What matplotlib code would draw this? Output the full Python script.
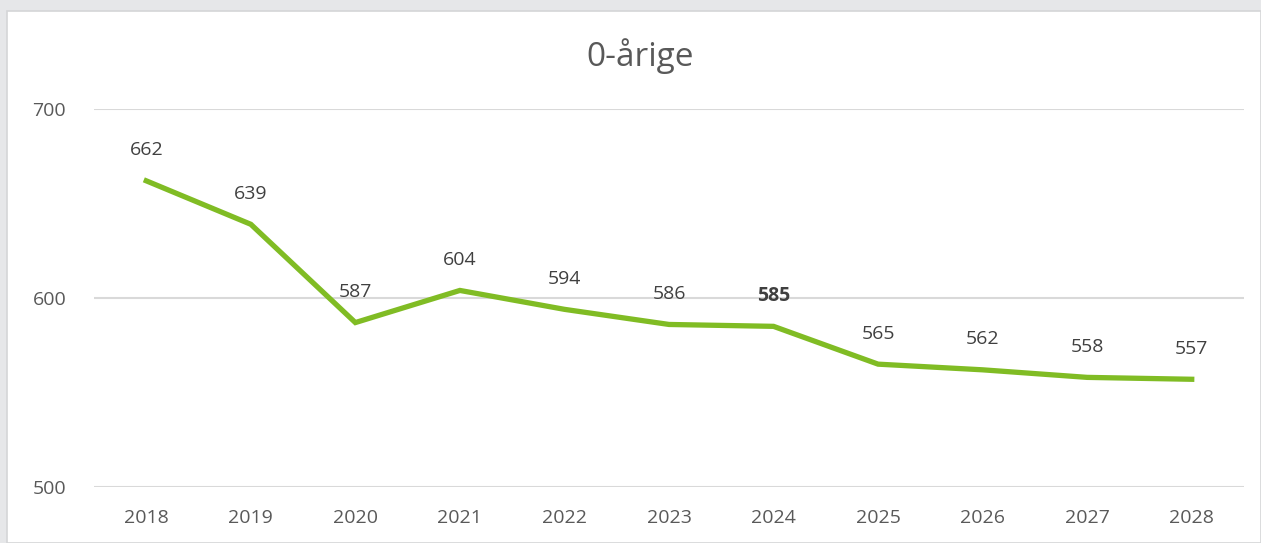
import matplotlib
matplotlib.use("Agg")
import matplotlib.pyplot as plt
from matplotlib.patches import Rectangle

years = ["2018", "2019", "2020", "2021", "2022", "2023", "2024", "2025", "2026", "2027", "2028"]
values = [662, 639, 587, 604, 594, 586, 585, 565, 562, 558, 557]
bold_year = "2024"

TXT = "#595959"
GREEN = "#80BC24"
GRID = "#D9D9D9"

plt.rcParams["font.family"] = ["Open Sans", "DejaVu Sans"]

fig = plt.figure(figsize=(12.61, 5.43), dpi=100)
fig.patch.set_facecolor("#E6E7E9")
# white chart panel, kept behind the axes
fig.patches.append(Rectangle((7 / 1261, 0), 1 - 7 / 1261, 1 - 11 / 543,
                             transform=fig.transFigure, facecolor="white",
                             edgecolor="#D4D5D7", lw=1.2, zorder=-5))

ax = fig.add_axes([94 / 1261, 1 - 487 / 543, (1244 - 94) / 1261, (487 - 109) / 543])
ax.set_facecolor("none")
x = list(range(len(years)))
ax.plot(x, values, color=GREEN, lw=3.8, solid_joinstyle="miter", zorder=3)

for xi, yr, v in zip(x, years, values):
    ax.annotate(str(v), (xi, v), xytext=(0, 22), textcoords="offset points",
                ha="center", va="center", fontsize=14, color="#404040",
                fontweight="bold" if yr == bold_year else "normal")

ax.set_xlim(-0.5, len(years) - 0.5)
ax.set_ylim(500, 700)
ax.set_yticks([500, 600, 700])
ax.set_xticks(x)
ax.set_xticklabels(years)
ax.yaxis.grid(True, color=GRID, lw=1.5)
ax.set_axisbelow(True)
for s in ax.spines.values():
    s.set_visible(False)
ax.tick_params(axis="both", length=0, labelsize=14, labelcolor=TXT)
ax.tick_params(axis="y", pad=20)
ax.tick_params(axis="x", pad=16)

fig.text(640 / 1261, 1 - 56 / 543, "0-årige", ha="center", va="center", fontsize=24, color=TXT)

fig.savefig("out.png", dpi=100, facecolor=fig.get_facecolor())
